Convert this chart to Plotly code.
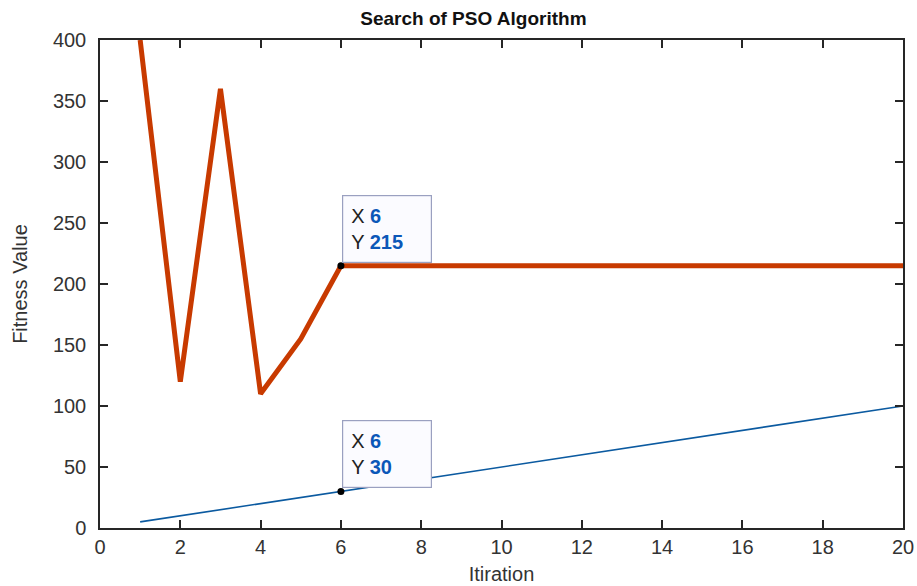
import plotly.graph_objects as go

iterations = list(range(1, 21))
fitness_pso = [400, 120, 360, 110, 155, 215, 215, 215, 215, 215,
               215, 215, 215, 215, 215, 215, 215, 215, 215, 215]
fitness_lin = [5, 10, 15, 20, 25, 30, 35, 40, 45, 50,
               55, 60, 65, 70, 75, 80, 85, 90, 95, 100]
tip_points = [(6, 215), (6, 30)]
x_ticks = [0, 2, 4, 6, 8, 10, 12, 14, 16, 18, 20]
y_ticks = [0, 50, 100, 150, 200, 250, 300, 350, 400]

FONT = "Liberation Sans, Arial, sans-serif"

fig = go.Figure()
fig.add_trace(go.Scatter(x=iterations, y=fitness_lin, mode="lines",
                         line=dict(color="#0b5aa0", width=1.6), showlegend=False))
fig.add_trace(go.Scatter(x=iterations, y=fitness_pso, mode="lines",
                         line=dict(color="#c83a00", width=5), showlegend=False))
fig.add_trace(go.Scatter(x=[p[0] for p in tip_points], y=[p[1] for p in tip_points],
                         mode="markers", marker=dict(color="black", size=7),
                         showlegend=False))

for xv, yv in tip_points:
    fig.add_annotation(
        x=xv, y=yv, xref="x", yref="y", showarrow=False,
        xanchor="left", yanchor="bottom", xshift=1, yshift=3, align="left",
        width=72, height=50,
        text=(f"X <b><span style='color:#0b57b8'>{xv}</span></b><br>"
              f"Y <b><span style='color:#0b57b8'>{yv}</span></b>"),
        font=dict(family=FONT, size=20, color="#222222"),
        bgcolor="#fbfbff", bordercolor="#9aa0c0", borderwidth=1.2, borderpad=8,
    )

axis_common = dict(showgrid=False, zeroline=False, showline=True, linecolor="#262626",
                   linewidth=1.5, mirror="ticks", ticks="inside", ticklen=8,
                   tickwidth=1.5, tickcolor="#262626", automargin=False,
                   tickfont=dict(family=FONT, size=20, color="#333333"))

fig.update_layout(
    width=917, height=586,
    margin=dict(l=100, r=14, t=40, b=58),
    paper_bgcolor="white", plot_bgcolor="white",
    title=dict(text="<b>Search of PSO Algorithm</b>", xref="paper", x=0.465,
               xanchor="center", yref="container", y=0.969, yanchor="middle",
               font=dict(family=FONT, size=19, color="#111111")),
    xaxis=dict(range=[0, 20], tickvals=x_ticks, **axis_common,
               title=dict(text="Itiration", standoff=10,
                          font=dict(family=FONT, size=20, color="#333333"))),
    yaxis=dict(range=[0, 400], tickvals=y_ticks, **axis_common,
               ticklabelstandoff=8,
               title=dict(text="Fitness Value", standoff=20,
                          font=dict(family=FONT, size=20, color="#333333"))),
)

fig.write_html(
    "out.html",
    config={"displayModeBar": False},
    post_script="document.body.style.margin='0';document.body.style.overflow='hidden';",
)
